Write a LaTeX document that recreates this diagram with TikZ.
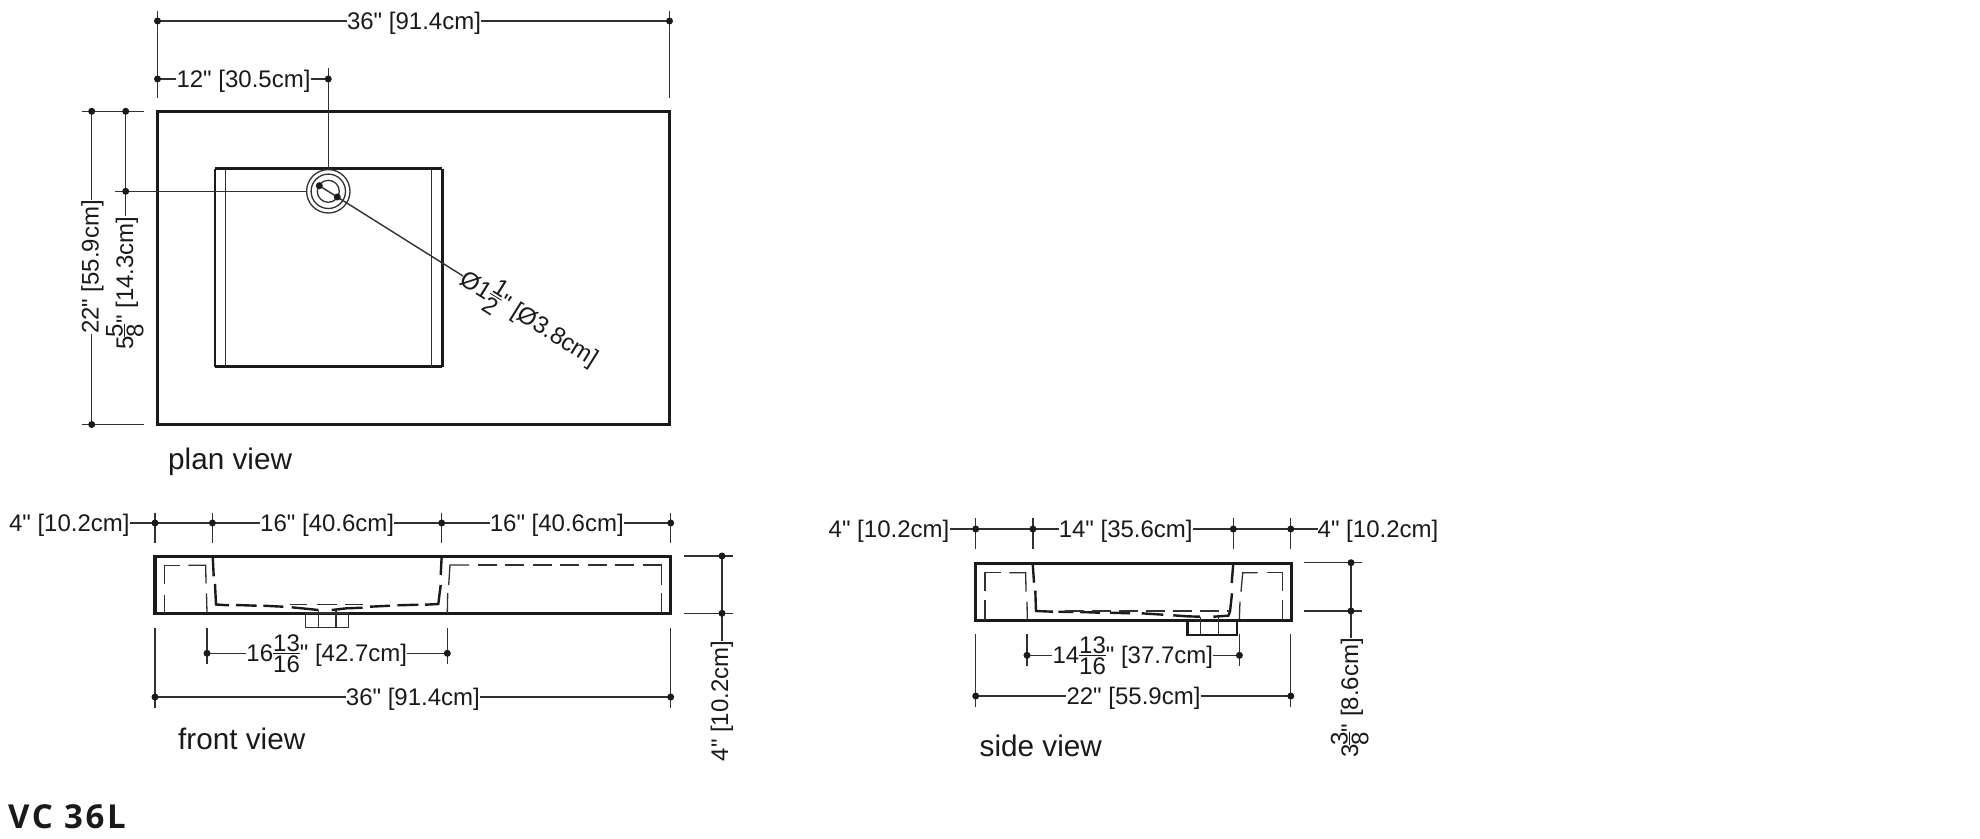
\documentclass[tikz,border=0pt]{standalone}
\usepackage{fontspec}
\setmainfont[Ligatures=TeXOff]{Liberation Sans}
\newfontfamily\vcfont[LetterSpace=8]{Open Sans}
\definecolor{ink}{HTML}{1A1A1A}
\newcommand\frc[2]{\leavevmode\lower10.4pt\vbox{\offinterlineskip\halign{\hfil##\hfil\cr#1\cr\noalign{\kern1.5pt\hrule height .8pt\kern1.5pt}#2\cr}}}
\tikzset{
  dimline/.style={line width=1.4pt,draw=ink!90},
  heavy/.style={line width=3.2pt,draw=ink,line join=miter},
  sinkline/.style={line width=2.4pt,draw=ink},
  thinline/.style={line width=1.3pt,draw=ink!90},
  lbl/.style={font=\fontsize{24}{24}\selectfont,inner sep=0pt,anchor=base,text=ink},
  vlbl/.style={lbl,rotate=90},
  viewname/.style={font=\fontsize{29.7}{30}\selectfont,inner sep=0pt,anchor=base west,text=ink},
  dimdot/.style={fill=ink}
}
\begin{document}
\begin{tikzpicture}[x=1pt,y=-1pt]
\useasboundingbox (0,0) rectangle (1980,838);
% ===== plan view =====
\draw[heavy] (157.5,111.3) rectangle (669.5,424.5);
\draw[sinkline,line width=2pt] (214.7,168.7) -- (214.7,366.7);
\draw[sinkline,line width=2.8pt] (214.7,168.7) -- (442.3,168.7);
\draw[sinkline,line width=2.8pt] (442.3,366.7) -- (214.7,366.7);
\draw[sinkline] (442.3,168.7) -- (442.3,366.7);
\draw[thinline] (225.3,169) -- (225.3,366.7);
\draw[thinline] (431.7,169) -- (431.7,366.7);
\coordinate (drain) at (328.3,191.3);
\draw[thinline] (drain) circle (21.7pt);
\draw[thinline] (drain) circle (17.2pt);
\draw[thinline] (drain) circle (11pt);
% overall width
\coordinate (pa) at (157.5,21); \coordinate (pb) at (669.5,21);
\node[lbl] (pw) at (414,29.5) {36" [91.4cm]};
\draw[thinline] (157.5,11) -- (157.5,97.7);
\draw[thinline] (669.5,11) -- (669.5,97.7);
\draw[dimline] (pa) -- (pw.west |- pa);
\draw[dimline] (pw.east |- pb) -- (pb);
% 12 inch
\coordinate (pc) at (157.5,79); \coordinate (pd) at (328.3,79);
\node[lbl] (pt) at (243.5,87.5) {12" [30.5cm]};
\draw[dimline] (pc) -- (pt.west |- pc);
\draw[dimline] (pt.east |- pd) -- (pd);
\draw[thinline] (328.3,68) -- (328.3,168.7);
% 22 inch
\coordinate (pe) at (91.7,111.3); \coordinate (pf) at (91.7,424.5);
\node[vlbl] (ph) at (98.7,267) {22" [55.9cm]};
\draw[dimline] (pe) -- (pe |- ph.east);
\draw[dimline] (pf |- ph.west) -- (pf);
\draw[thinline] (81.7,111.3) -- (144.3,111.3);
\draw[thinline] (81.7,424.5) -- (144.3,424.5);
% 5 5/8
\coordinate (pg) at (125.7,111.3); \coordinate (pi) at (125.7,191.3);
\node[vlbl] (pv) at (133,283) {5\kern-1pt\frc{5}{8}" [14.3cm]};
\draw[dimline] (pg) -- (pi) -- (pi |- pv.east);
\draw[thinline] (115,191.3) -- (305.7,191.3);
% diameter
\coordinate (pj) at (319.3,185.7); \coordinate (pk) at (337.3,197);
\coordinate (pl) at (463,276);
\node[lbl,anchor=base west,rotate=-32] (pn) at (458.5,283.2) {Ø1\frc{1}{2}" [Ø3.8cm]};
\draw[dimline] (pj) -- (pk) -- (pl);
\foreach \c in {pa,pb,pc,pd,pe,pf,pg,pi,pj,pk}{\fill[dimdot] (\c) circle (3.5pt);}
\node[viewname] (planname) at (168,469.3) {plan view};
% ===== front view =====
\draw[heavy] (155,556.5) rectangle (670.7,613.5);
\draw[thinline] (164.3,584) -- (164.3,565.3) -- (180,565.3);
\draw[thinline] (188.3,565.3) -- (205.7,565.3) -- (206,583.3);
\draw[thinline] (206.5,593.3) -- (207,613);
\draw[thinline] (164.3,595) -- (164.3,613);
\draw[thinline] (448.7,585) -- (450,565) -- (469,565);
\draw[thinline,dash pattern=on 19pt off 8.5pt] (477.5,565) -- (661.7,565);
\draw[thinline] (661.7,565) -- (661.7,585);
\draw[thinline] (661.7,593.3) -- (661.7,613);
\draw[thinline] (447.7,593) -- (447.3,613);
\draw[sinkline] (212.7,556) -- (213.7,576.3);
\draw[sinkline] (215,584) -- (216,604.5) -- (229,605.3);
\draw[sinkline] (236,605) -- (256.7,605.7);
\draw[sinkline] (263.3,605.7) -- (283.3,606.7);
\draw[sinkline] (291.7,607.3) -- (311.7,609.3) -- (318.3,610);
\draw[sinkline] (331.7,610) -- (346.7,608.3) -- (362.7,607.7);
\draw[sinkline] (370,606.7) -- (390,605.7);
\draw[sinkline] (397.3,605.3) -- (418.3,604.7);
\draw[sinkline] (425,604.7) -- (438.3,604) -- (440.7,585);
\draw[sinkline] (440.7,575) -- (441.7,556);
\draw[thinline] (290,604.3) -- (306.7,604.3);
\draw[thinline] (317,604.3) -- (336.7,604.3);
\draw[thinline] (345,604.3) -- (363.3,604.3);
\draw[thinline] (305.7,613) rectangle (348.7,627.7);
\draw[thinline] (318.3,610) -- (318.3,627.7);
\draw[thinline] (336,610) -- (336,627.7);
% top chain
\coordinate (fa) at (155,523); \coordinate (fb) at (212.4,523);
\coordinate (fc) at (441.7,523); \coordinate (fd) at (670.7,523);
\foreach \x in {155,212.4,441.7,670.7}{\draw[thinline] (\x,512.7) -- (\x,542.7);}
\node[lbl] (f0) at (69.3,531.5) {4" [10.2cm]};
\node[lbl] (f1) at (327.2,531.5) {16" [40.6cm]};
\node[lbl] (f2) at (556.8,531.5) {16" [40.6cm]};
\draw[dimline] (f0.east |- fa) -- (fa) -- (fb) -- (f1.west |- fb);
\draw[dimline] (f1.east |- fc) -- (fc) -- (f2.west |- fc);
\draw[dimline] (f2.east |- fd) -- (fd);
% mid
\coordinate (fe) at (207,653.3); \coordinate (ff) at (447.3,653.3);
\draw[thinline] (207,628) -- (207,664);
\draw[thinline] (447.3,628) -- (447.3,664);
\node[lbl] (f3) at (326.8,661.8) {16\frc{13}{16}" [42.7cm]};
\draw[dimline] (fe) -- (f3.west |- fe);
\draw[dimline] (f3.east |- ff) -- (ff);
% overall
\coordinate (fg) at (155,697); \coordinate (fh) at (670.7,697);
\draw[thinline] (155,627.7) -- (155,708);
\draw[thinline] (670.7,627.7) -- (670.7,708);
\node[lbl] (f4) at (412.9,705.5) {36" [91.4cm]};
\draw[dimline] (fg) -- (f4.west |- fg);
\draw[dimline] (f4.east |- fh) -- (fh);
% height
\coordinate (fi) at (722,556); \coordinate (fj) at (722,613.3);
\draw[thinline] (684,556) -- (732.6,556);
\draw[thinline] (684,613.3) -- (732.6,613.3);
\node[vlbl] (f5) at (728,701) {4" [10.2cm]};
\draw[dimline] (fi) -- (fj) -- (fj |- f5.east);
\foreach \c in {fa,fb,fc,fd,fe,ff,fg,fh,fi,fj}{\fill[dimdot] (\c) circle (3.5pt);}
\node[viewname] (frontname) at (178,749.5) {front view};
% ===== side view =====
\draw[heavy] (975.3,563.3) rectangle (1291.3,620.3);
\draw[thinline] (985,590.7) -- (985,572.7) -- (1000.7,572.7);
\draw[thinline] (1009.3,572.7) -- (1025.7,572.7) -- (1026,591.7);
\draw[thinline] (1027,601.7) -- (1027.3,620);
\draw[thinline] (985,600) -- (985,620);
\draw[thinline] (1241,591.7) -- (1242.7,572.7) -- (1257.7,572.7);
\draw[thinline] (1266.7,572.7) -- (1282.3,572.7) -- (1282.3,590.7);
\draw[thinline] (1282.3,600) -- (1282.3,620);
\draw[thinline] (1240,601.7) -- (1239.3,620);
\draw[sinkline] (1032.7,563) -- (1034,582.7);
\draw[sinkline] (1035.3,590.7) -- (1036,611) -- (1053,611.7);
\draw[sinkline] (1058.3,611.7) -- (1073.3,612);
\draw[sinkline] (1080,612) -- (1100,612.7);
\draw[sinkline] (1110,612.7) -- (1130,613.3);
\draw[sinkline] (1141.7,613.3) -- (1163.3,614.7);
\draw[sinkline] (1173.3,615.3) -- (1186.7,616.3) -- (1200,616.7);
\draw[sinkline] (1213.3,616.7) -- (1228.3,615.7) -- (1230,611.7) -- (1232,593.3);
\draw[sinkline] (1231.7,583) -- (1233.3,563);
\draw[thinline,dash pattern=on 19pt off 8pt] (1065,611) -- (1230,611);
\draw[sinkline] (1187.3,620) -- (1187.3,635) -- (1236.7,635) -- (1236.7,620);
\draw[thinline] (1200.7,617) -- (1200.7,635);
\draw[thinline] (1218.3,617) -- (1218.3,635);
% top chain
\coordinate (sa) at (975.7,529); \coordinate (sb) at (1032.9,529);
\coordinate (sc) at (1233.3,529); \coordinate (sd) at (1290.8,529);
\foreach \x in {975.7,1032.9,1233.3,1290.8}{\draw[thinline] (\x,518) -- (\x,549);}
\node[lbl] (s0) at (889,537.5) {4" [10.2cm]};
\node[lbl] (s1) at (1125.7,537.5) {14" [35.6cm]};
\node[lbl] (s2) at (1378,537.5) {4" [10.2cm]};
\draw[dimline] (s0.east |- sa) -- (sa) -- (sb) -- (s1.west |- sb);
\draw[dimline] (s1.east |- sc) -- (sc) -- (sd) -- (s2.west |- sd);
% mid
\coordinate (se) at (1027,655.3); \coordinate (sf) at (1239.4,655.3);
\draw[thinline] (1027,634) -- (1027,666);
\draw[thinline] (1239.4,634) -- (1239.4,666);
\node[lbl] (s3) at (1132.8,663.8) {14\frc{13}{16}" [37.7cm]};
\draw[dimline] (se) -- (s3.west |- se);
\draw[dimline] (s3.east |- sf) -- (sf);
% overall
\coordinate (sg) at (975.7,696); \coordinate (sh) at (1290.8,696);
\draw[thinline] (975.7,634) -- (975.7,707);
\draw[thinline] (1290.8,634) -- (1290.8,707);
\node[lbl] (s4) at (1133.5,704.5) {22" [55.9cm]};
\draw[dimline] (sg) -- (s4.west |- sg);
\draw[dimline] (s4.east |- sh) -- (sh);
% height
\coordinate (si) at (1351,562.7); \coordinate (sj) at (1351,611);
\draw[thinline] (1304.3,562.7) -- (1361.7,562.7);
\draw[thinline] (1304.3,611) -- (1361.7,611);
\node[vlbl] (s5) at (1358,698) {3\kern-1pt\frc{3}{8}" [8.6cm]};
\draw[dimline] (si) -- (sj) -- (sj |- s5.east);
\foreach \c in {sa,sb,sc,sd,se,sf,sg,sh,si,sj}{\fill[dimdot] (\c) circle (3.5pt);}
\node[viewname] (sidename) at (979.5,756.5) {side view};
% ===== title =====
\node[inner sep=0pt,anchor=base west,text=ink,font=\vcfont\bfseries\fontsize{33}{34}\selectfont] (title) at (8,828) {VC 36L};
\end{tikzpicture}
\end{document}
